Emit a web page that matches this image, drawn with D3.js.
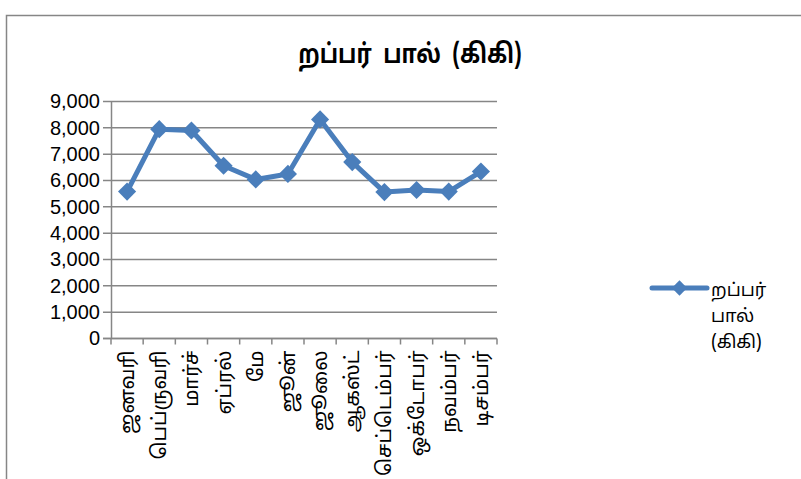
<!DOCTYPE html>
<html>
<head>
<meta charset="utf-8">
<script src="https://cdn.jsdelivr.net/npm/d3@7"></script>
<style>
  body { margin: 0; background: #fff; }
  text { font-family: "Liberation Sans", Arial, sans-serif; }
  .ta { font-family: "Noto Sans Tamil", "Lohit Tamil", "Latha", "Noto Sans", "DejaVu Sans", sans-serif; white-space: pre; }
</style>
</head>
<body>
<div id="main"></div>
<script>
const months = ["ஜனவரி", "பெப்ருவரி", "மார்ச்", "ஏப்ரல்", "மே", "ஜூன்", "ஜூலை", "ஆகஸ்ட்", "செப்டெம்பர்", "ஒக்டோபர்", "நவம்பர்", "டிசம்பர்"];
const rubberMilk = [5580, 7950, 7900, 6560, 6040, 6250, 8320, 6700, 5560, 5640, 5580, 6340];
const yTicks = [0, 1000, 2000, 3000, 4000, 5000, 6000, 7000, 8000, 9000];
const seriesName = ["றப்பர்", "பால்", "(கிகி)"];
const chartTitle = "றப்பர்  பால்  (கிகி)";

const svgWidth = 801;
const svgHeight = 479;
const blue = "#4a7ebb";
const grey = "#868686";

const svg = d3.select("#main")
              .append("svg")
              .attr("width", svgWidth)
              .attr("height", svgHeight);

// chart frame
svg.append("path")
   .attr("d", "M6.5,479 L6.5,15.5 L801,15.5")
   .attr("fill", "none")
   .attr("stroke", grey)
   .attr("stroke-width", 1.5);

// title, squeezed a bit to look like the taller original face
svg.append("text")
   .attr("class", "ta")
   .attr("transform", "translate(410,63) scale(0.92,1.1)")
   .attr("text-anchor", "middle")
   .attr("font-size", 24)
   .attr("font-weight", "bold")
   .text(chartTitle);

const xScale = d3.scaleBand()
                 .domain(months)
                 .range([111, 497]);

const yScale = d3.scaleLinear()
                 .domain([0, 9000])
                 .range([338.5, 101.5]);

// gridlines
svg.append("g")
   .selectAll("line")
   .data(yTicks)
   .enter()
   .append("line")
   .attr("x1", 103)
   .attr("x2", 497)
   .attr("y1", d => yScale(d))
   .attr("y2", d => yScale(d))
   .attr("stroke", grey)
   .attr("stroke-width", 1.5);

const yAxis = d3.axisLeft(yScale)
                .tickValues(yTicks)
                .tickFormat(d3.format(","))
                .tickSize(0)
                .tickPadding(11);

const yg = svg.append("g")
   .attr("id", "y-axis")
   .attr("transform", "translate(111,0)")
   .call(yAxis);
yg.select(".domain").attr("stroke", grey).attr("stroke-width", 1.5);
yg.selectAll("text").attr("font-size", 20).attr("fill", "#000")
  .style("font-family", "'Liberation Sans', Arial, sans-serif");

const xAxis = d3.axisBottom(xScale)
                .tickSize(0)
                .tickPadding(0);

const xg = svg.append("g")
   .attr("id", "x-axis")
   .attr("transform", "translate(0," + yScale(0) + ")")
   .call(xAxis);
xg.select(".domain").remove();
xg.append("line")
  .attr("x1", 103).attr("x2", 497)
  .attr("stroke", grey).attr("stroke-width", 1.5);
// category boundary ticks
xg.selectAll(".bound")
  .data(months.concat(["end"]))
  .enter()
  .append("line")
  .attr("class", "bound")
  .attr("x1", (d, i) => xScale.range()[0] + i * xScale.step())
  .attr("x2", (d, i) => xScale.range()[0] + i * xScale.step())
  .attr("y1", 0)
  .attr("y2", 6)
  .attr("stroke", grey)
  .attr("stroke-width", 1.5);
xg.selectAll(".tick text")
  .attr("class", "ta")
  .attr("font-size", 20)
  .attr("fill", "#000")
  .attr("text-anchor", "end")
  .attr("dy", "0.35em")
  .attr("transform", "translate(0,12) rotate(-90)")
  .attr("x", 0)
  .attr("y", 0);

const line = d3.line()
               .x((d, i) => xScale(months[i]) + xScale.bandwidth() / 2)
               .y(d => yScale(d));

svg.append("path")
   .datum(rubberMilk)
   .attr("d", line)
   .attr("fill", "none")
   .attr("stroke", blue)
   .attr("stroke-width", 5)
   .attr("stroke-linejoin", "round");

const diamond = d3.symbol().type(d3.symbolDiamond2).size(210);

svg.selectAll(".pt")
   .data(rubberMilk)
   .enter()
   .append("path")
   .attr("class", "pt")
   .attr("d", diamond)
   .attr("transform", (d, i) => "translate(" + (xScale(months[i]) + xScale.bandwidth() / 2) + "," + yScale(d) + ")")
   .attr("fill", blue);

// legend
const legend = svg.append("g").attr("transform", "translate(652,288)");
legend.append("line")
      .attr("x1", 0).attr("x2", 55)
      .attr("stroke", blue)
      .attr("stroke-width", 5)
      .attr("stroke-linecap", "round");
legend.append("path")
      .attr("d", d3.symbol().type(d3.symbolDiamond2).size(150))
      .attr("transform", "translate(27.5,0)")
      .attr("fill", blue);
legend.selectAll("text")
      .data(seriesName)
      .enter()
      .append("text")
      .attr("class", "ta")
      .attr("x", 59)
      .attr("y", (d, i) => 8 + i * 26)
      .attr("font-size", 18)
      .text(d => d);
</script>
</body>
</html>
